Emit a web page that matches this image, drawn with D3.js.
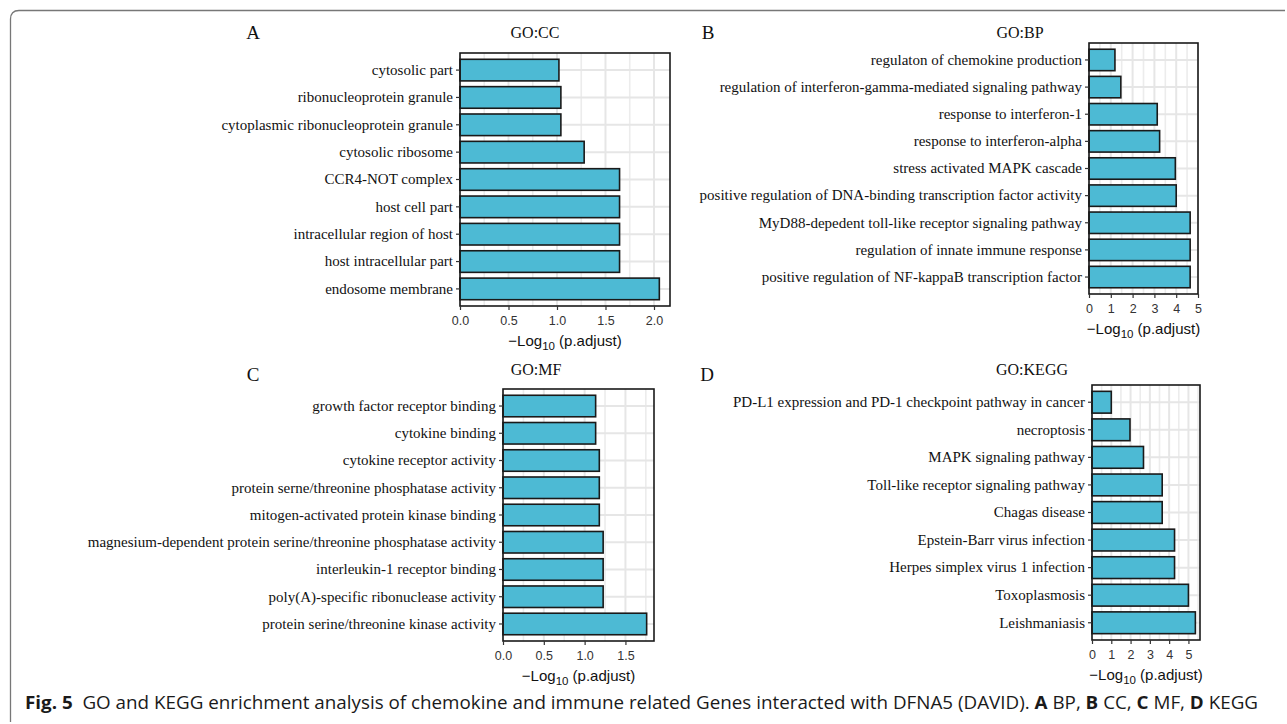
<!DOCTYPE html>
<html lang="en">
<head>
<meta charset="UTF-8">
<title>GO and KEGG enrichment</title>
<script src="https://d3js.org/d3.v7.min.js"></script>
<style>
  body { margin: 0; background: #fff; }
  .term text { font-family: "Liberation Serif", "Times New Roman", serif; font-size: 15px; fill: #111; }
  .num text { font-family: "Liberation Sans", Arial, sans-serif; font-size: 12.5px; fill: #333; }
  .tick line { stroke: #333; stroke-width: 1.2; }
  .ttl { font-family: "Liberation Serif", "Times New Roman", serif; font-size: 16px; fill: #111; }
  .letter { font-family: "Liberation Serif", "Times New Roman", serif; font-size: 19px; fill: #111; }
  .xlab { font-family: "Liberation Sans", Arial, sans-serif; font-size: 15px; fill: #111; }
</style>
</head>
<body>
<svg width="1287" height="724"></svg>
<script>
// GO:CC (panel A), top to bottom
const ccTerms = ["cytosolic part", "ribonucleoprotein granule", "cytoplasmic ribonucleoprotein granule",
  "cytosolic ribosome", "CCR4-NOT complex", "host cell part", "intracellular region of host",
  "host intracellular part", "endosome membrane"];
const ccValues = [1.02, 1.04, 1.04, 1.28, 1.645, 1.645, 1.645, 1.645, 2.055];
const ccTicks = [0, 0.5, 1.0, 1.5, 2.0];

// GO:BP (panel B)
const bpTerms = ["regulaton of chemokine production",
  "regulation of interferon-gamma-mediated signaling pathway",
  "response to interferon-1", "response to interferon-alpha", "stress activated MAPK cascade",
  "positive regulation of DNA-binding transcription factor activity",
  "MyD88-depedent toll-like receptor signaling pathway", "regulation of innate immune response",
  "positive regulation of NF-kappaB transcription factor"];
const bpValues = [1.19, 1.46, 3.13, 3.24, 3.96, 4.0, 4.64, 4.64, 4.64];
const bpTicks = [0, 1, 2, 3, 4, 5];

// GO:MF (panel C)
const mfTerms = ["growth factor receptor binding", "cytokine binding", "cytokine receptor activity",
  "protein serne/threonine phosphatase activity", "mitogen-activated protein kinase binding",
  "magnesium-dependent protein serine/threonine phosphatase activity", "interleukin-1 receptor binding",
  "poly(A)-specific ribonuclease activity", "protein serine/threonine kinase activity"];
const mfValues = [1.135, 1.135, 1.18, 1.18, 1.18, 1.227, 1.227, 1.227, 1.76];
const mfTicks = [0, 0.5, 1.0, 1.5];

// KEGG (panel D)
const keggTerms = ["PD-L1 expression and PD-1 checkpoint pathway in cancer", "necroptosis",
  "MAPK signaling pathway", "Toll-like receptor signaling pathway", "Chagas disease",
  "Epstein-Barr virus infection", "Herpes simplex virus 1 infection", "Toxoplasmosis", "Leishmaniasis"];
const keggValues = [1.0, 1.97, 2.67, 3.64, 3.64, 4.28, 4.28, 5.0, 5.36];
const keggTicks = [0, 1, 2, 3, 4, 5];

const svg = d3.select("svg");
const barFill = "#4dbad4";

// outer frame of the figure
svg.append("path")
  .attr("d", "M10.5,722 L10.5,19 Q10.5,10.5 19,10.5 L1285,10.5")
  .attr("fill", "none").attr("stroke", "#777").attr("stroke-width", 1.3);

function drawPanel(p) {
  const x = d3.scaleLinear().domain([0, p.xMax]).range([p.left, p.right]);
  const y = d3.scaleBand().domain(p.terms).range([p.top, p.bottom])
    .paddingInner(0.21).paddingOuter(0.23);
  const g = svg.append("g");

  // grid
  const step = p.ticks[1] - p.ticks[0];
  const minor = d3.range(step / 2, p.xMax, step);
  g.selectAll(".minor").data(minor).join("line")
    .attr("x1", d => x(d)).attr("x2", d => x(d))
    .attr("y1", p.top).attr("y2", p.bottom)
    .attr("stroke", "#ececec").attr("stroke-width", 1.6);
  g.selectAll(".major").data(p.ticks).join("line")
    .attr("x1", d => x(d)).attr("x2", d => x(d))
    .attr("y1", p.top).attr("y2", p.bottom)
    .attr("stroke", "#e6e6e6").attr("stroke-width", 2);
  g.selectAll(".hgrid").data(p.terms).join("line")
    .attr("x1", p.left).attr("x2", p.right)
    .attr("y1", d => y(d) + y.bandwidth() / 2).attr("y2", d => y(d) + y.bandwidth() / 2)
    .attr("stroke", "#e6e6e6").attr("stroke-width", 2);

  // bars
  g.selectAll(".bar").data(p.terms).join("rect")
    .attr("x", x(0))
    .attr("y", d => y(d))
    .attr("width", (d, i) => x(p.values[i]) - x(0))
    .attr("height", y.bandwidth())
    .attr("fill", barFill).attr("stroke", "#1a1a1a").attr("stroke-width", 1.6);

  // panel border
  g.append("rect")
    .attr("x", p.left).attr("y", p.top)
    .attr("width", p.right - p.left).attr("height", p.bottom - p.top)
    .attr("fill", "none").attr("stroke", "#1a1a1a").attr("stroke-width", 1.6);

  // axes
  g.append("g").attr("class", "term")
    .attr("transform", `translate(${p.left},0)`)
    .call(d3.axisLeft(y).tickSize(4).tickPadding(3))
    .call(a => a.select(".domain").remove());
  g.append("g").attr("class", "num")
    .attr("transform", `translate(0,${p.bottom})`)
    .call(d3.axisBottom(x).tickValues(p.ticks).tickSize(4).tickPadding(6).tickFormat(d3.format(p.fmt)))
    .call(a => a.select(".domain").remove());

  // axis title
  const t = g.append("text").attr("class", "xlab")
    .attr("x", (p.left + p.right) / 2).attr("y", p.bottom + 40)
    .attr("text-anchor", "middle");
  t.append("tspan").text("\u2212Log");
  t.append("tspan").attr("font-size", "11.5px").attr("dy", 4).text("10");
  t.append("tspan").attr("dy", -4).text(" (p.adjust)");

  g.append("text").attr("class", "ttl")
    .attr("x", p.titleX).attr("y", p.titleY).attr("text-anchor", "middle").text(p.title);
  g.append("text").attr("class", "letter")
    .attr("x", p.letterX).attr("y", p.letterY).attr("text-anchor", "middle").text(p.letter);
}

drawPanel({ terms: ccTerms, values: ccValues, ticks: ccTicks, fmt: ".1f", xMax: 2.165,
  left: 460, right: 670, top: 53, bottom: 306,
  title: "GO:CC", titleX: 535, titleY: 38, letter: "A", letterX: 253, letterY: 39 });
drawPanel({ terms: bpTerms, values: bpValues, ticks: bpTicks, fmt: "d", xMax: 5,
  left: 1089, right: 1198, top: 43, bottom: 294,
  title: "GO:BP", titleX: 1020, titleY: 38, letter: "B", letterX: 708, letterY: 39 });
drawPanel({ terms: mfTerms, values: mfValues, ticks: mfTicks, fmt: ".1f", xMax: 1.85,
  left: 503, right: 654, top: 389, bottom: 641,
  title: "GO:MF", titleX: 536, titleY: 375, letter: "C", letterX: 253, letterY: 381 });
drawPanel({ terms: keggTerms, values: keggValues, ticks: keggTicks, fmt: "d", xMax: 5.6,
  left: 1092, right: 1200, top: 385, bottom: 640,
  title: "GO:KEGG", titleX: 1032, titleY: 375, letter: "D", letterX: 707, letterY: 381 });

// caption
const cap = svg.append("text")
  .attr("x", 25).attr("y", 709)
  .attr("font-family", "'Open Sans', 'Noto Sans', sans-serif")
  .attr("font-size", "17.5px").attr("fill", "#1a1a1a");
const parts = [["Fig. 5", true], ["  GO and KEGG enrichment analysis of chemokine and immune related Genes interacted with DFNA5 (DAVID). ", false],
  ["A", true], [" BP, ", false], ["B", true], [" CC, ", false], ["C", true], [" MF, ", false], ["D", true], [" KEGG", false]];
parts.forEach(([s, b]) => cap.append("tspan").attr("font-weight", b ? 700 : 400)
  .attr("xml:space", "preserve").style("white-space", "pre").text(s));
cap.attr("textLength", 1233).attr("lengthAdjust", "spacingAndGlyphs");
</script>
</body>
</html>
